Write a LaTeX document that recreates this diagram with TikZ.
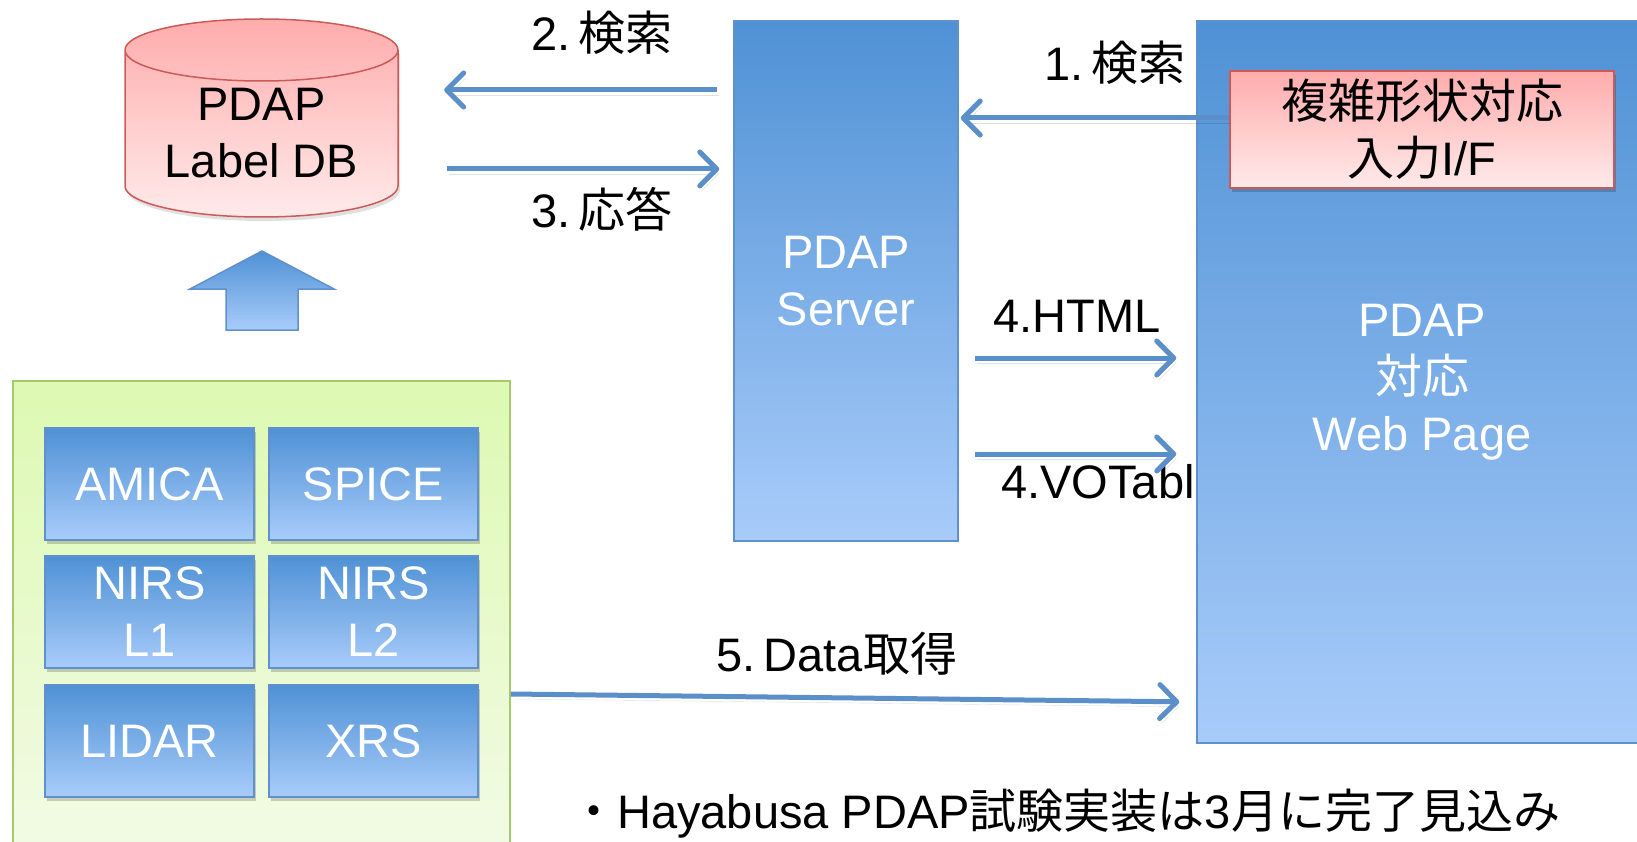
\documentclass[tikz,border=0pt]{standalone}
\usepackage{fontspec}
\setmainfont{Liberation Sans}
\newfontfamily\jpfont{Noto Sans CJK JP}
\newcommand\jtxt[1]{{\jpfont #1}}
\usetikzlibrary{arrows.meta,shadows,calc}

\definecolor{flowblue}{RGB}{91,143,201}
\definecolor{boxtop}{RGB}{79,145,213}
\definecolor{boxbot}{RGB}{168,204,250}
\definecolor{boxline}{RGB}{96,145,205}
\definecolor{pinktop}{RGB}{255,172,172}
\definecolor{pinkbot}{RGB}{255,234,234}
\definecolor{pinkline}{RGB}{204,90,88}
\definecolor{greentop}{RGB}{221,249,178}
\definecolor{greenbot}{RGB}{244,251,234}
\definecolor{greenline}{RGB}{166,201,106}

\begin{document}
\begin{tikzpicture}[x=1pt,y=-1pt,
  every node/.style={font=\fontsize{47pt}{57pt}\selectfont, inner sep=0pt},
  softshadow/.style={drop shadow={shadow xshift=2pt, shadow yshift=-4pt, opacity=.18, fill=black}},
  bluebox/.style={draw=boxline, line width=1.5pt, top color=boxtop, bottom color=boxbot,
    text=white, align=center},
  instbox/.style={bluebox, softshadow, minimum width=209pt, minimum height=112pt},
  pinkbox/.style={draw=pinkline, line width=1.5pt, top color=pinktop, bottom color=pinkbot,
    align=center, softshadow},
  flow/.style={draw=flowblue, line width=5pt,
    -{Straight Barb[length=17pt, width=34pt, round]},
    preaction={draw=black, draw opacity=.12, transform canvas={xshift=2pt, yshift=-5pt}}},
  lbl/.style={text=black}
]
\useasboundingbox (0,0) rectangle (1637,842);
\clip (0,0) rectangle (1637,842);

% label database (cylinder)
\fill[black, opacity=.12]
  (127,54) -- (127,190) arc[start angle=180, end angle=0, x radius=136.5, y radius=31]
  -- (400,54) -- cycle;
\fill[top color=pinktop, bottom color=pinkbot]
  (125,50) -- (125,186) arc[start angle=180, end angle=0, x radius=136.5, y radius=31]
  -- (398,50) arc[start angle=0, end angle=-180, x radius=136.5, y radius=31] -- cycle;
\draw[pinkline, line width=1.5pt]
  (125,50) -- (125,186) arc[start angle=180, end angle=0, x radius=136.5, y radius=31]
  -- (398,50) arc[start angle=0, end angle=-180, x radius=136.5, y radius=31]
  (125,50) arc[start angle=180, end angle=0, x radius=136.5, y radius=31];
\node[align=center, minimum width=273pt, minimum height=198pt] (db) at (261.5,133) {PDAP\\Label DB};

% upward block arrow
\filldraw[draw=boxline, line width=1.5pt, top color=boxtop, bottom color=boxbot]
  (262,251) -- (334,289) -- (298,289) -- (298,330) -- (226,330) -- (226,289) -- (190,289) -- cycle;

% data archive with instruments
\node[draw=greenline, line width=1.5pt, top color=greentop, bottom color=greenbot,
  minimum width=497pt, minimum height=519pt] (grn) at (261.5,640.5) {};
\node[instbox] (amica) at (149.5,484) {AMICA};
\node[instbox] (spice) at (373.5,484) {SPICE};
\node[instbox] (nirs1) at (149.5,612) {NIRS\\L1};
\node[instbox] (nirs2) at (373.5,612) {NIRS\\L2};
\node[instbox] (lidar) at (149.5,741) {LIDAR};
\node[instbox] (xrs)   at (373.5,741) {XRS};

% server
\node[bluebox, minimum width=224pt, minimum height=520pt] (srv) at (846,281) {PDAP\\Server};

% labels that sit left of the web page
\node[lbl] (l2) at (602,33) {2.\,\jtxt{検索}};
\node[lbl] (l3) at (602,209) {3.\,\jtxt{応答}};
\node[lbl] (l1) at (1115,63) {1.\,\jtxt{検索}};
\node[lbl] (l4a) at (1077,316) {4.HTML};
\node[lbl, anchor=west] (l4b) at (1001,482) {4.VOTable};
\node[lbl] (l5) at (837,654) {5.\,Data\jtxt{取得}};

% web page
\node[bluebox, minimum width=450pt, minimum height=722pt] (web) at (1422,382) {PDAP\\\jtxt{対応}\\Web Page};
\node[pinkbox, minimum width=384pt, minimum height=117pt] (inif) at (1422,129.5)
  {\jtxt{複雑形状対応}\\\jtxt{入力}I/F};

% flows
\draw[flow, shorten <=16pt, shorten >=46pt] (srv.west |- 0,90) -- (db.east |- 0,90);
\draw[flow, shorten <=49pt, shorten >=14pt] (db.east |- 0,169) -- (srv.west |- 0,169);
\draw[flow, shorten >=2pt] (inif.west |- 0,118) -- (srv.east |- 0,118);
\draw[flow, shorten <=16pt, shorten >=20pt] (srv.east |- 0,358) -- (web.west |- 0,358);
\draw[flow, shorten <=16pt, shorten >=20pt] (srv.east |- 0,454) -- (web.west |- 0,454);
\draw[flow, shorten >=17pt] (grn.east |- 0,694) -- (web.west |- 0,702);

% note
\node[lbl, anchor=west] (note) at (570,814) {\jtxt{・}Hayabusa PDAP\jtxt{試験実装は}3\jtxt{月に完了見込み}};
\end{tikzpicture}
\end{document}
